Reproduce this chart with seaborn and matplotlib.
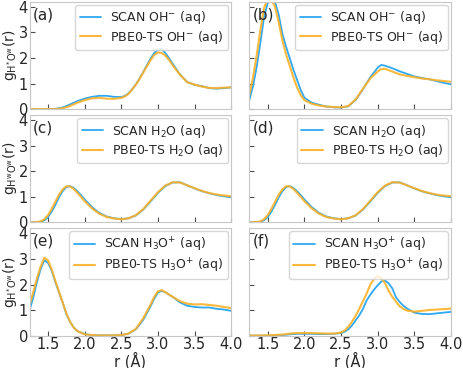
import matplotlib
matplotlib.use("Agg")
import matplotlib.pyplot as plt
import seaborn as sns

# ---------------------------------------------------------------------------
# Données : g(r) pour OH-, H2O, H3O+ (SCAN vs PBE0-TS)
# ---------------------------------------------------------------------------

r_a = [1.25, 1.4, 1.5, 1.6, 1.7, 1.8, 1.9, 2.0, 2.1, 2.2, 2.3, 2.4, 2.5, 2.55, 2.6,
       2.65, 2.7, 2.75, 2.8, 2.85, 2.9, 2.95, 3.0, 3.05, 3.1, 3.15, 3.2, 3.3, 3.4,
       3.5, 3.6, 3.7, 3.8, 3.9, 4.0]
g_a_scan = [0, 0, 0, 0.01, 0.06, 0.18, 0.31, 0.41, 0.48, 0.52, 0.52, 0.48, 0.47, 0.52,
            0.62, 0.78, 0.97, 1.2, 1.45, 1.72, 1.98, 2.2, 2.33, 2.35, 2.2, 2.0, 1.78,
            1.36, 1.06, 0.95, 0.9, 0.82, 0.8, 0.82, 0.85]
g_a_pbe0 = [0, 0, 0, 0, 0.03, 0.12, 0.25, 0.35, 0.42, 0.44, 0.41, 0.4, 0.44, 0.5, 0.6,
            0.77, 0.96, 1.18, 1.43, 1.68, 1.92, 2.12, 2.22, 2.2, 2.1, 1.93, 1.72, 1.35,
            1.05, 0.96, 0.88, 0.83, 0.82, 0.84, 0.85]

r_b = [1.25, 1.3, 1.35, 1.4, 1.45, 1.5, 1.55, 1.6, 1.65, 1.7, 1.75, 1.8, 1.85, 1.9,
       1.95, 2.0, 2.1, 2.2, 2.3, 2.4, 2.5, 2.6, 2.7, 2.8, 2.9, 3.0, 3.05, 3.1, 3.2,
       3.3, 3.4, 3.5, 3.6, 3.7, 3.8, 3.9, 4.0]
g_b_scan = [0.36, 0.9, 1.66, 2.6, 3.6, 4.15, 4.35, 4.2, 3.7, 2.95, 2.45, 2.0, 1.55,
            1.15, 0.75, 0.45, 0.25, 0.17, 0.1, 0.07, 0.06, 0.11, 0.36, 0.78, 1.25,
            1.62, 1.73, 1.7, 1.6, 1.48, 1.38, 1.28, 1.22, 1.17, 1.1, 1.03, 0.97]
g_b_pbe0 = [0.56, 1.25, 2.1, 3.1, 3.95, 4.35, 4.3, 4.0, 3.4, 2.7, 2.15, 1.7, 1.25,
            0.85, 0.55, 0.35, 0.21, 0.14, 0.1, 0.08, 0.07, 0.12, 0.38, 0.8, 1.2,
            1.47, 1.57, 1.58, 1.47, 1.36, 1.3, 1.25, 1.2, 1.17, 1.13, 1.1, 1.07]

r_c = [1.25, 1.35, 1.4, 1.45, 1.5, 1.55, 1.6, 1.65, 1.7, 1.75, 1.8, 1.85, 1.9, 1.95,
       2.0, 2.1, 2.2, 2.3, 2.4, 2.5, 2.6, 2.7, 2.8, 2.9, 3.0, 3.1, 3.2, 3.3, 3.4, 3.5,
       3.6, 3.7, 3.8, 3.9, 4.0]
g_c_scan = [0, 0.005, 0.02, 0.08, 0.2, 0.42, 0.68, 0.98, 1.22, 1.38, 1.42, 1.35, 1.22,
            1.07, 0.9, 0.6, 0.37, 0.23, 0.16, 0.13, 0.16, 0.27, 0.5, 0.82, 1.15, 1.42,
            1.56, 1.57, 1.45, 1.33, 1.22, 1.14, 1.07, 1.02, 0.98]
g_c_pbe0 = [0, 0.01, 0.04, 0.12, 0.28, 0.52, 0.8, 1.08, 1.29, 1.41, 1.41, 1.31, 1.16,
            1.0, 0.83, 0.55, 0.34, 0.21, 0.15, 0.12, 0.16, 0.28, 0.52, 0.85, 1.18, 1.44,
            1.57, 1.56, 1.45, 1.34, 1.23, 1.15, 1.09, 1.05, 1.02]

# O^w H^w : même fonction que H^w O^w
r_d = r_c
g_d_scan = g_c_scan
g_d_pbe0 = g_c_pbe0

r_e = [1.25, 1.3, 1.35, 1.4, 1.45, 1.5, 1.55, 1.6, 1.65, 1.7, 1.75, 1.8, 1.85, 1.9,
       2.0, 2.1, 2.2, 2.3, 2.4, 2.5, 2.6, 2.7, 2.8, 2.9, 2.95, 3.0, 3.05, 3.1, 3.2,
       3.3, 3.4, 3.5, 3.6, 3.7, 3.8, 3.9, 4.0]
g_e_scan = [1.0, 1.5, 2.1, 2.6, 2.95, 2.85, 2.55, 2.1, 1.7, 1.3, 0.85, 0.55, 0.32,
            0.18, 0.06, 0.02, 0.01, 0.01, 0.01, 0.02, 0.08, 0.25, 0.62, 1.15, 1.45,
            1.68, 1.75, 1.7, 1.52, 1.3, 1.17, 1.12, 1.1, 1.1, 1.05, 1.02, 0.97]
g_e_pbe0 = [1.2, 1.7, 2.25, 2.7, 3.05, 2.95, 2.6, 2.15, 1.72, 1.3, 0.88, 0.55, 0.32,
            0.18, 0.05, 0.02, 0.01, 0.01, 0.01, 0.02, 0.08, 0.27, 0.68, 1.22, 1.52,
            1.73, 1.78, 1.7, 1.52, 1.35, 1.25, 1.22, 1.23, 1.2, 1.17, 1.12, 1.08]

r_f = [1.25, 1.5, 1.7, 1.8, 1.9, 2.0, 2.1, 2.2, 2.3, 2.4, 2.5, 2.55, 2.6, 2.65, 2.7,
       2.75, 2.8, 2.85, 2.9, 2.95, 3.0, 3.05, 3.1, 3.15, 3.2, 3.25, 3.3, 3.35, 3.4,
       3.5, 3.6, 3.7, 3.8, 3.9, 4.0]
g_f_scan = [0, 0, 0.02, 0.05, 0.07, 0.07, 0.07, 0.06, 0.06, 0.07, 0.1, 0.15, 0.25, 0.4,
            0.6, 0.8, 1.05, 1.38, 1.6, 1.8, 1.97, 2.12, 2.16, 2.05, 1.85, 1.5, 1.32,
            1.17, 1.06, 0.9, 0.85, 0.84, 0.87, 0.9, 0.93]
g_f_pbe0 = [0, 0.01, 0.04, 0.08, 0.1, 0.1, 0.1, 0.09, 0.08, 0.08, 0.12, 0.2, 0.35,
            0.55, 0.78, 1.05, 1.35, 1.65, 2.0, 2.22, 2.33, 2.25, 2.05, 1.75, 1.52,
            1.33, 1.15, 1.05, 0.98, 0.94, 0.97, 1.0, 1.02, 1.04, 1.06]

panel_tags = ["(a)", "(b)", "(c)", "(d)", "(e)", "(f)"]
ylabels = [
    r"g$_{\mathrm{H^{*}O^{w}}}$(r)", r"g$_{\mathrm{O^{*}H^{w}}}$(r)",
    r"g$_{\mathrm{H^{w}O^{w}}}$(r)", r"g$_{\mathrm{O^{w}H^{w}}}$(r)",
    r"g$_{\mathrm{H^{*}O^{w}}}$(r)", r"g$_{\mathrm{O^{*}H^{w}}}$(r)",
]
species = [r"OH$^{-}$", r"OH$^{-}$", r"H$_2$O", r"H$_2$O", r"H$_3$O$^{+}$", r"H$_3$O$^{+}$"]

panels = [
    (r_a, g_a_scan, g_a_pbe0),
    (r_b, g_b_scan, g_b_pbe0),
    (r_c, g_c_scan, g_c_pbe0),
    (r_d, g_d_scan, g_d_pbe0),
    (r_e, g_e_scan, g_e_pbe0),
    (r_f, g_f_scan, g_f_pbe0),
]

BLUE = "#2ea8f0"
ORANGE = "#fbb127"

# ---------------------------------------------------------------------------
# Figure
# ---------------------------------------------------------------------------

sns.set_style("ticks", {"xtick.direction": "in", "ytick.direction": "in"})
plt.rcParams["font.family"] = ["DejaVu Sans"]

fig, axes = plt.subplots(3, 2, figsize=(4.63, 3.68), dpi=100, sharex=True, sharey=True)
fig.subplots_adjust(left=0.064, right=0.974, bottom=0.088, top=0.995,
                    wspace=0.09, hspace=0.056)

for i, ax in enumerate(axes.flat):
    r, g_scan, g_pbe0 = panels[i]
    sns.lineplot(x=r, y=g_scan, ax=ax, color=BLUE, lw=1.3,
                 label=f"SCAN {species[i]} (aq)")
    sns.lineplot(x=r, y=g_pbe0, ax=ax, color=ORANGE, lw=1.5, alpha=0.9,
                 label=f"PBE0-TS {species[i]} (aq)")
    ax.set_xlim(1.25, 4.0)
    ax.set_ylim(0, 4.2)
    ax.set_xticks([1.5, 2.0, 2.5, 3.0, 3.5, 4.0])
    ax.set_yticks([0, 1, 2, 3, 4])
    ax.tick_params(labelsize=10.5, length=3.5, color="0.3", pad=1.2)
    for sp in ax.spines.values():
        sp.set_color("0.78")
    ax.set_ylabel(ylabels[i], fontsize=10, labelpad=0)
    ax.text(0.015, 0.88, panel_tags[i], transform=ax.transAxes,
            fontsize=11, va="center", ha="left")
    ax.legend(loc="upper right", fontsize=9.0, handlelength=1.7, handletextpad=0.75,
              borderaxespad=0.25, borderpad=0.35, labelspacing=0.2)
    if i >= 4:
        ax.set_xlabel("r (Å)", fontsize=10.5, labelpad=-0.5)

plt.savefig("out.png", dpi=100)
plt.close()
